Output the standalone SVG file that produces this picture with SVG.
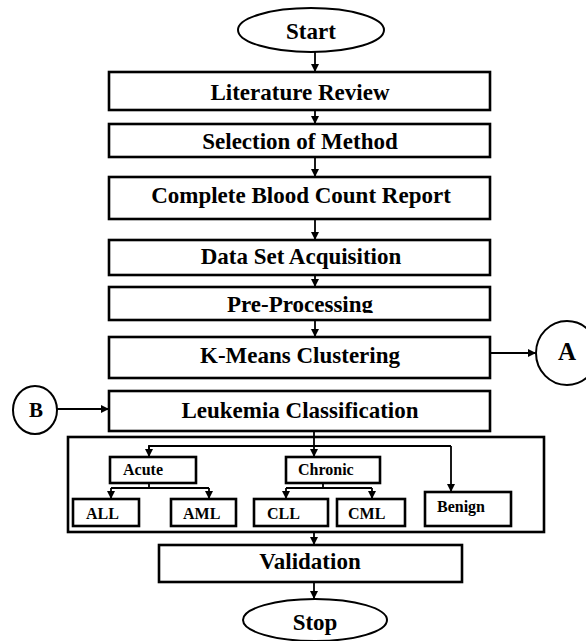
<svg xmlns="http://www.w3.org/2000/svg" width="586" height="641" viewBox="0 0 586 641">
<defs>
<marker id="ah" markerUnits="userSpaceOnUse" markerWidth="8" markerHeight="8" refX="8" refY="4" orient="auto">
<path d="M0,0 L8,4 L0,8 z" fill="#000"/>
</marker>
<clipPath id="ppclip"><rect x="109" y="287" width="381" height="26"/></clipPath>
</defs>
<style>
.box{fill:#fff;stroke:#000;stroke-width:2.6}
.sbox{fill:#fff;stroke:#000;stroke-width:2.6}
.term{fill:#fff;stroke:#000;stroke-width:2}
.t{font-family:"Liberation Serif","Times New Roman",serif;font-weight:bold;font-size:23px;fill:#000;text-anchor:middle}
.s{font-family:"Liberation Serif","Times New Roman",serif;font-weight:bold;font-size:16px;fill:#000}
.c{fill:none;stroke:#000;stroke-width:1.8}
.ca{fill:none;stroke:#000;stroke-width:1.8;marker-end:url(#ah)}
</style>
<rect width="586" height="641" fill="#fff"/>
<g id="connectors">
<line class="ca" x1="315" y1="52" x2="315" y2="72"/>
<line class="ca" x1="315" y1="110" x2="315" y2="124"/>
<line class="ca" x1="315" y1="157" x2="315" y2="177"/>
<line class="ca" x1="315" y1="219" x2="315" y2="240"/>
<line class="ca" x1="315" y1="275" x2="315" y2="287"/>
<line class="ca" x1="315" y1="320" x2="315" y2="337"/>
<line class="ca" x1="490" y1="353" x2="536" y2="353"/>
<line class="ca" x1="57" y1="409" x2="109" y2="409"/>
<line class="ca" x1="314" y1="431" x2="314" y2="457"/>
<polyline class="c" points="149,457 149,446 451,446"/>
<line class="ca" x1="149" y1="446" x2="149" y2="457"/>
<line class="ca" x1="451" y1="446" x2="451" y2="492"/>
<line class="c" x1="149" y1="483" x2="149" y2="488"/>
<line class="c" x1="111" y1="488" x2="209" y2="488"/>
<line class="ca" x1="111" y1="488" x2="111" y2="499"/>
<line class="ca" x1="209" y1="488" x2="209" y2="499"/>
<line class="c" x1="323" y1="483" x2="323" y2="488"/>
<line class="c" x1="286" y1="488" x2="372" y2="488"/>
<line class="ca" x1="286" y1="488" x2="286" y2="499"/>
<line class="ca" x1="372" y1="488" x2="372" y2="499"/>
<line class="ca" x1="314" y1="532" x2="314" y2="545"/>
<line class="ca" x1="314" y1="582" x2="314" y2="599"/>
</g>
<g id="start"><ellipse class="term" cx="311" cy="30" rx="73" ry="22"/><text class="t" x="311" y="39">Start</text></g>
<g id="literature"><rect class="box" x="109" y="72" width="381" height="38"/><text class="t" x="300" y="100">Literature Review</text></g>
<g id="selection"><rect class="box" x="109" y="124" width="381" height="33"/><text class="t" x="300" y="149">Selection of Method</text></g>
<g id="cbc"><rect class="box" x="109" y="177" width="381" height="42"/><text class="t" x="301" y="203">Complete Blood Count Report</text></g>
<g id="dataset"><rect class="box" x="109" y="240" width="381" height="35"/><text class="t" x="301" y="264">Data Set Acquisition</text></g>
<g id="preprocessing"><rect class="box" x="109" y="287" width="381" height="33"/><text class="t" x="300" y="312" clip-path="url(#ppclip)">Pre-Processing</text></g>
<g id="kmeans"><rect class="box" x="109" y="337" width="381" height="41"/><text class="t" x="300" y="363">K-Means Clustering</text></g>
<g id="connA"><ellipse class="term" cx="567" cy="353" rx="31" ry="32"/><text class="t" x="567" y="360" style="font-size:25px">A</text></g>
<g id="connB"><ellipse class="term" cx="35" cy="410" rx="22" ry="24"/><text class="t" x="36" y="417" style="font-size:21px">B</text></g>
<g id="leukemia"><rect class="box" x="109" y="391" width="381" height="40"/><text class="t" x="300" y="418">Leukemia Classification</text></g>
<g id="classgroup"><rect class="box" x="68" y="437" width="476" height="95" fill="none" style="fill:none"/></g>
<g id="acute"><rect class="sbox" x="110" y="457" width="86" height="26"/><text class="s" x="123" y="475">Acute</text></g>
<g id="chronic"><rect class="sbox" x="286" y="457" width="94" height="26"/><text class="s" x="298" y="475">Chronic</text></g>
<g id="all"><rect class="sbox" x="73" y="499" width="66" height="27"/><text class="s" x="86" y="519">ALL</text></g>
<g id="aml"><rect class="sbox" x="171" y="499" width="65" height="27"/><text class="s" x="183" y="519">AML</text></g>
<g id="cll"><rect class="sbox" x="254" y="499" width="74" height="27"/><text class="s" x="267" y="519">CLL</text></g>
<g id="cml"><rect class="sbox" x="337" y="499" width="68" height="27"/><text class="s" x="348" y="519">CML</text></g>
<g id="benign"><rect class="sbox" x="425" y="492" width="86" height="34"/><text class="s" x="437" y="512">Benign</text></g>
<g id="validation"><rect class="box" x="159" y="545" width="303" height="37"/><text class="t" x="310" y="569">Validation</text></g>
<g id="stop"><ellipse class="term" cx="315" cy="620" rx="72" ry="21"/><text class="t" x="315" y="630">Stop</text></g>
</svg>
